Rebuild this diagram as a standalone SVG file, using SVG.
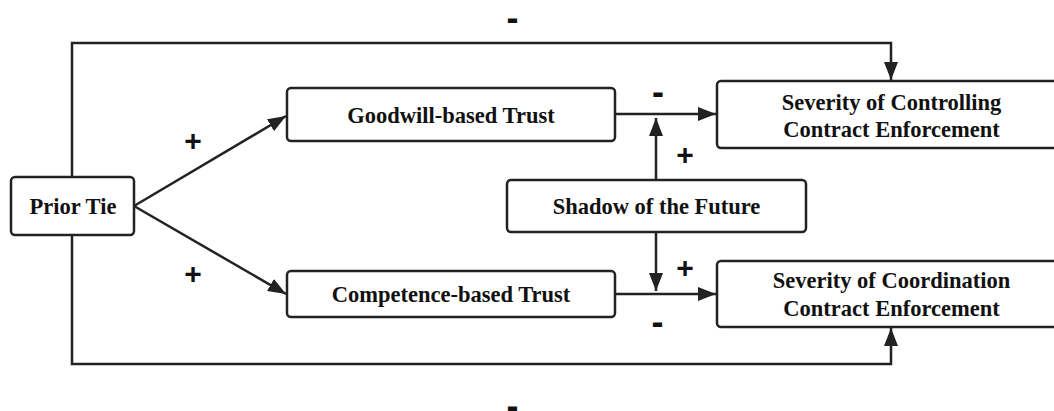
<svg xmlns="http://www.w3.org/2000/svg" width="1054" height="411" viewBox="0 0 1054 411">
<style>
.box{fill:#fff;stroke:#222;stroke-width:2.5}
.lbl{font-family:"Liberation Serif","Times New Roman",serif;font-weight:bold;font-size:22.5px;fill:#111;text-anchor:middle}
.sign{font-family:"Liberation Sans",Arial,sans-serif;font-weight:bold;fill:#111;text-anchor:middle}
.plus{font-size:30px}
.minus{font-size:36px}
.edge{fill:none;stroke:#222;stroke-width:2.5}
</style>
<defs>
<marker id="arr" markerUnits="userSpaceOnUse" markerWidth="20" markerHeight="14" refX="18" refY="7" orient="auto">
<path d="M0,0 L18,7 L0,14 Z" fill="#222"/>
</marker>
</defs>
<rect width="1054" height="411" fill="#fff"/>
<g id="connectors">
<line class="edge" x1="134" y1="206" x2="286" y2="116" marker-end="url(#arr)"/>
<line class="edge" x1="134" y1="206" x2="286" y2="294" marker-end="url(#arr)"/>
<line class="edge" x1="615" y1="114" x2="716" y2="114" marker-end="url(#arr)"/>
<line class="edge" x1="615" y1="294" x2="716" y2="294" marker-end="url(#arr)"/>
<line class="edge" x1="656" y1="180" x2="656" y2="118" marker-end="url(#arr)"/>
<line class="edge" x1="656" y1="232" x2="656" y2="291" marker-end="url(#arr)"/>
<polyline class="edge" points="72,177 72,43 891,43 891,80" marker-end="url(#arr)"/>
<polyline class="edge" points="72,235 72,364 891,364 891,328" marker-end="url(#arr)"/>
</g>
<g id="prior-tie">
<rect class="box" x="11" y="177" width="123" height="58" rx="4"/>
<text class="lbl" x="73" y="214">Prior Tie</text>
</g>
<g id="goodwill">
<rect class="box" x="287" y="88" width="328" height="53" rx="4"/>
<text class="lbl" x="451" y="123">Goodwill-based Trust</text>
</g>
<g id="competence">
<rect class="box" x="287" y="271" width="328" height="46" rx="4"/>
<text class="lbl" x="451" y="302">Competence-based Trust</text>
</g>
<g id="shadow">
<rect class="box" x="507" y="180" width="299" height="52" rx="4"/>
<text class="lbl" x="656.5" y="214">Shadow of the Future</text>
</g>
<g id="controlling">
<rect class="box" x="717" y="81" width="350" height="67" rx="4"/>
<text class="lbl" x="891.5" y="110">Severity of Controlling</text>
<text class="lbl" x="891.5" y="137">Contract Enforcement</text>
</g>
<g id="coordination">
<rect class="box" x="717" y="261" width="350" height="66" rx="4"/>
<text class="lbl" x="891.5" y="288">Severity of Coordination</text>
<text class="lbl" x="891.5" y="316">Contract Enforcement</text>
</g>
<g id="signs">
<text class="sign plus" x="193" y="151">+</text>
<text class="sign plus" x="193" y="284">+</text>
<text class="sign plus" x="685" y="165">+</text>
<text class="sign plus" x="685" y="278">+</text>
<text class="sign minus" x="512.5" y="30">-</text>
<text class="sign minus" x="658" y="104">-</text>
<text class="sign minus" x="657.5" y="334">-</text>
<text class="sign minus" x="512.5" y="418">-</text>
</g>
</svg>
